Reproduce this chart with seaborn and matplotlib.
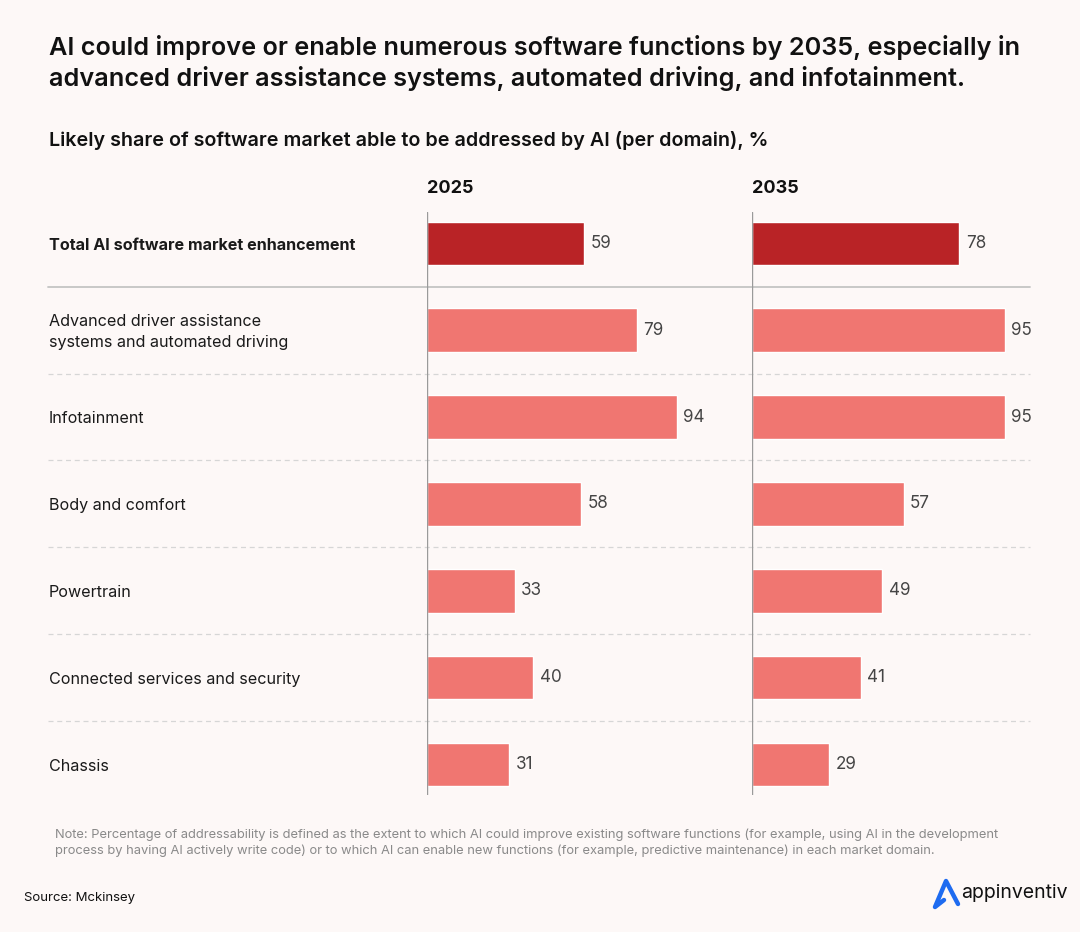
import matplotlib.pyplot as plt
import matplotlib.transforms as mtransforms
from matplotlib.lines import Line2D
import pandas as pd
import seaborn as sns

CATEGORIES = [
    "Total AI software market enhancement",
    "Advanced driver assistance\nsystems and automated driving",
    "Infotainment",
    "Body and comfort",
    "Powertrain",
    "Connected services and security",
    "Chassis",
]
VALUES_2025 = [59, 79, 94, 58, 33, 40, 31]
VALUES_2035 = [78, 95, 95, 57, 49, 41, 29]
YEARS = ["2025", "2035"]

BG = "#FDF8F7"
DARK_RED = "#B92326"
LIGHT_RED = "#F07671"
colors = [DARK_RED] + [LIGHT_RED] * (len(CATEGORIES) - 1)

sns.set_theme(style="white")
plt.rcParams["font.family"] = ["Inter", "DejaVu Sans"]

W, H = 1080, 932
fig = plt.figure(figsize=(W / 100, H / 100), dpi=100, facecolor=BG)


def fx(px):
    return px / W


def fy(py):
    return 1 - py / H


px_per_unit = 2.66
ax_top, ax_bot = 212, 795
left_x0, right_x0, right_x1 = 427, 752, 1030

ax1 = fig.add_axes([fx(left_x0), fy(ax_bot), fx(right_x0 - left_x0), fy(ax_top) - fy(ax_bot)])
ax2 = fig.add_axes([fx(right_x0), fy(ax_bot), fx(right_x1 - right_x0), fy(ax_top) - fy(ax_bot)])

df = pd.DataFrame({"cat": CATEGORIES, YEARS[0]: VALUES_2025, YEARS[1]: VALUES_2035})

for ax, year, x0, x1 in [(ax1, YEARS[0], left_x0, right_x0), (ax2, YEARS[1], right_x0, right_x1)]:
    ax.set_facecolor("none")
    sns.barplot(data=df, x=year, y="cat", hue="cat", palette=colors, orient="h",
                width=0.5, legend=False, ax=ax, saturation=1)
    ax.set_xlim(0, (x1 - x0) / px_per_unit)
    ax.set_ylim(6.35, -0.36)
    ax.axis("off")
    ax.axvline(0, color="#9A9A9A", lw=1, zorder=3)
    for i, v in enumerate(df[year]):
        ax.text(v + 2.4, i, f"{v}", va="center", ha="left", fontsize=12.3, color="#454545")
    fig.text(fx(x0), fy(189), year, ha="left", va="center",
             fontsize=13, fontweight="bold", color="#111111")

# separators across the full width
trans = mtransforms.blended_transform_factory(fig.transFigure, ax1.transData)
for i in range(len(CATEGORIES) - 1):
    y = i + 0.5
    if i == 0:
        fig.add_artist(Line2D([fx(48), fx(1030)], [y, y], transform=trans,
                              color="#C4C4C4", lw=1.3, zorder=0))
    else:
        fig.add_artist(Line2D([fx(48), fx(1030)], [y, y], transform=trans,
                              color="#D6D6D6", lw=0.9, ls=(0, (4, 3)), zorder=0))

# category labels
for i, cat in enumerate(CATEGORIES):
    fig.text(fx(49), i + 0.02, cat, transform=trans, ha="left", va="center",
             fontsize=11.6, color="#1A1A1A", linespacing=1.55,
             fontweight="bold" if i == 0 else "normal")

# titles
fig.text(fx(49), fy(63), "AI could improve or enable numerous software functions by 2035, especially in\n"
         "advanced driver assistance systems, automated driving, and infotainment.",
         ha="left", va="center", fontsize=18.2, fontweight="semibold", color="#111111",
         linespacing=1.33)
fig.text(fx(49), fy(141), "Likely share of software market able to be addressed by AI (per domain), %",
         ha="left", va="center", fontsize=14.2, fontweight="semibold", color="#111111")

# note and source
fig.text(fx(55), fy(843), "Note: Percentage of addressability is defined as the extent to which AI could improve existing software functions (for example, using AI in the development\n"
         "process by having AI actively write code) or to which AI can enable new functions (for example, predictive maintenance) in each market domain.",
         ha="left", va="center", fontsize=9.3, color="#8A8A8A", linespacing=1.35)
fig.text(fx(24), fy(898), "Source: Mckinsey", ha="left", va="center", fontsize=9.5, color="#111111")

# logo
fig.add_artist(Line2D([fx(958), fx(946), fx(935), fx(944)],
                      [fy(904), fy(881), fy(907), fy(900)],
                      color="#1E6BF0", lw=3.2, solid_capstyle="round", solid_joinstyle="round"))
fig.text(fx(961), fy(893), "appinventiv", ha="left", va="center", fontsize=14, color="#111111")

fig.savefig("out.png", dpi=100, facecolor=BG)
